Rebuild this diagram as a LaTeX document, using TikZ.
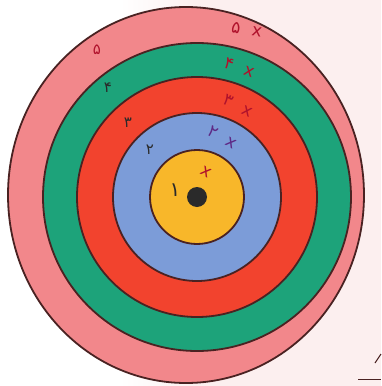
\documentclass[tikz,border=0pt]{standalone}
\usepackage{fontspec}
\newfontfamily\fafont[Script=Arabic]{DejaVu Sans}
\definecolor{bgpink}{HTML}{FCEFEF}
\definecolor{ringpink}{HTML}{F2878B}
\definecolor{ringgreen}{HTML}{1DA37A}
\definecolor{ringred}{HTML}{F2432E}
\definecolor{ringblue}{HTML}{7C9CD8}
\definecolor{ringyellow}{HTML}{F8B72A}
\definecolor{edge}{HTML}{4A2222}
\definecolor{inkred}{HTML}{B0122C}
\definecolor{inkpurple}{HTML}{5E2A86}
\definecolor{inkdark}{HTML}{2A2A2A}
\tikzset{
  ring/.style={draw=edge, line width=1.8pt},
  lbl/.style={inner sep=0pt, font=\fafont\fontsize{15}{15}\selectfont},
  xlbl/.style={inner sep=0pt, font=\fafont\fontsize{17}{17}\selectfont, text=inkred},
}
\begin{document}
\begin{tikzpicture}[x=1pt,y=-1pt]
\useasboundingbox (0,0) rectangle (381,386);
\fill[bgpink] (0,0) rectangle (381,386);
\fill[white] (0,0) rectangle (120,386);
\shade[left color=white, right color=bgpink] (120,0) rectangle (200,386);
\coordinate (c) at (197,197);
\filldraw[ring, fill=ringpink] (186,195) ellipse [x radius=178, y radius=188];
\filldraw[ring, fill=ringgreen] (c) circle [radius=154];
\filldraw[ring, fill=ringred] (c) circle [radius=120];
\filldraw[ring, fill=ringblue] (c) circle [radius=84];
\filldraw[ring, fill=ringyellow] (c) circle [radius=47];
\fill[inkdark] (c) circle [radius=10];
% left digits
\node[lbl, text=inkred] (l5) at (97,50) {۵};
\node[lbl, text=inkdark] (l4) at (108,88) {۴};
\node[lbl, text=inkdark] (l3) at (128,123) {۳};
\node[lbl, text=inkdark] (l2) at (150,150) {۲};
\node[lbl, text=inkdark, font=\fafont\fontsize{20}{20}\selectfont] (l1) at (175,190) {۱};
% right labels: digit, then x
\node[xlbl, rotate=-10] (r5d) at (236,28) {۵};
\node[xlbl, rotate=-10] (r5x) at (257,32) {x};
\node[xlbl, rotate=-20] (r4d) at (229,64) {۴};
\node[xlbl, rotate=-20] (r4x) at (249,72) {x};
\node[xlbl, rotate=-25] (r3d) at (228,101) {۳};
\node[xlbl, rotate=-25] (r3x) at (247,111) {x};
\node[xlbl, rotate=-30, text=inkpurple] (r2d) at (213,132) {۲};
\node[xlbl, rotate=-30, text=inkpurple] (r2x) at (231,143) {x};
\node[xlbl, rotate=-30] (r1x) at (206,172) {x};
% stray marks
\draw[edge, line width=1pt] (375,363) -- (381,354);
\draw[edge, line width=1pt] (358,379) -- (381,379);
\end{tikzpicture}
\end{document}
